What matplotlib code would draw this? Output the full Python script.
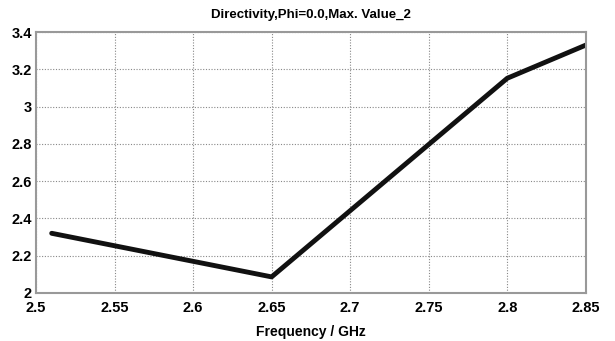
import matplotlib
matplotlib.use('Agg')
import matplotlib.pyplot as plt

freq = [2.51, 2.65, 2.8, 2.85]
directivity = [2.32, 2.086, 3.152, 3.33]
xticks = [2.5, 2.55, 2.6, 2.65, 2.7, 2.75, 2.8, 2.85]
yticks = [2, 2.2, 2.4, 2.6, 2.8, 3, 3.2, 3.4]

plt.rcParams['font.family'] = ['Liberation Sans', 'DejaVu Sans']
plt.rcParams['font.weight'] = 'bold'

fig = plt.figure(figsize=(6.15, 3.41), dpi=100)
ax = fig.add_axes([0.0585, 0.141, 0.894, 0.765])
ax.plot(freq, directivity, color='#111111', linewidth=3.5, solid_capstyle='round')
ax.set_xlim(2.5, 2.85)
ax.set_ylim(2, 3.4)
ax.set_xticks(xticks)
ax.set_xticklabels([('%g' % v) for v in xticks])
ax.set_yticks(yticks)
ax.set_yticklabels([('%g' % v) for v in yticks])
ax.tick_params(axis='x', labelsize=10.5, length=0, pad=6)
ax.tick_params(axis='y', labelsize=10.5, length=0, pad=3)
ax.grid(True, color='#888888', linestyle=(0, (1, 1.5)), linewidth=0.8)
for s in ax.spines.values():
    s.set_color('#999999')
    s.set_linewidth(1.5)
ax.set_xlabel('Frequency / GHz', fontsize=10, fontweight='bold', labelpad=7)
ax.set_title('Directivity,Phi=0.0,Max. Value_2', fontsize=9.5, fontweight='bold', pad=10)
fig.savefig('out.png', dpi=100)
